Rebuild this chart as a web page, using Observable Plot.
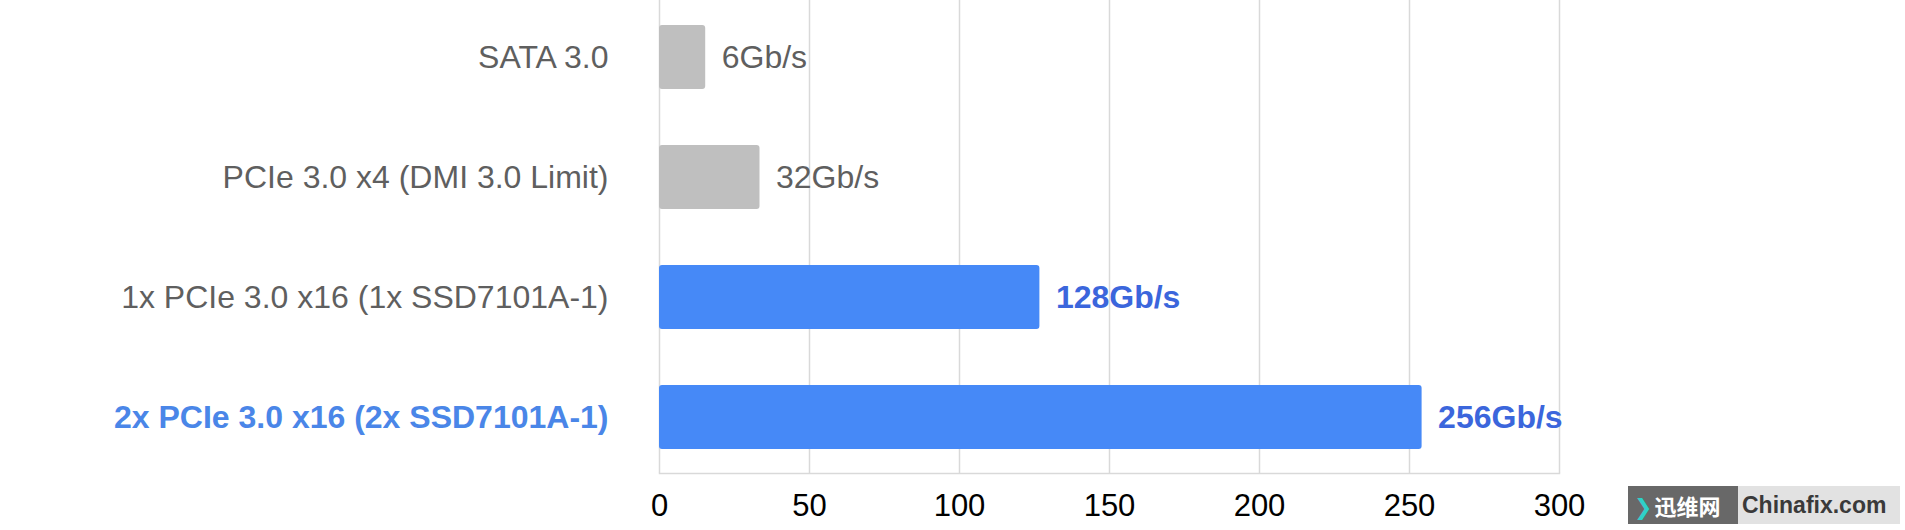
<!DOCTYPE html>
<html>
<head>
<meta charset="utf-8">
<script src="https://cdn.jsdelivr.net/npm/d3@7"></script>
<script src="https://cdn.jsdelivr.net/npm/@observablehq/plot@0.6"></script>
<style>
  html, body { margin: 0; padding: 0; background: #fff; }
  #wrap { position: relative; width: 1905px; height: 530px; overflow: hidden; }
  #wm { position: absolute; left: 1628px; top: 486px; height: 38px; display: flex; font-weight: bold; line-height: 38px; white-space: nowrap; }
  #wm div { box-sizing: border-box; overflow: hidden; }
  #wm .a { background: #686868; color: #fff; width: 110px; padding-left: 6px; font-family: "Noto Sans CJK SC", sans-serif; font-size: 22px; }
  #wm .a span.c { color: #2fd0c8; margin-right: 2px; font-family: "DejaVu Sans", sans-serif; }
  #wm .b { background: #e2e2e2; color: #3a3a3a; width: 162px; padding-left: 4px; font-family: "Liberation Sans", Arial, sans-serif; font-size: 23px; }
</style>
</head>
<body>
<div id="wrap"></div>
<script>
const categories = [
  "SATA 3.0",
  "PCIe 3.0 x4 (DMI 3.0 Limit)",
  "1x PCIe 3.0 x16 (1x SSD7101A-1)",
  "2x PCIe 3.0 x16 (2x SSD7101A-1)"
];
const barValues = [15.4, 33.5, 126.8, 254.2];
const valueLabels = ["6Gb/s", "32Gb/s", "128Gb/s", "256Gb/s"];
const highlighted = [false, false, true, true];
const xTicks = [0, 50, 100, 150, 200, 250, 300];

const data = categories.map((c, i) => ({
  name: c, value: barValues[i], label: valueLabels[i], hi: highlighted[i], top: i === categories.length - 1
}));

const font = "'Liberation Sans', Arial, Helvetica, sans-serif";

const chart = Plot.plot({
  width: 1905,
  height: 530,
  marginLeft: 659,
  marginRight: 346,
  marginTop: 0,
  marginBottom: 57,
  style: { fontFamily: font, background: "#fff" },
  x: { domain: [0, 300], ticks: xTicks, label: null },
  y: { domain: categories, paddingInner: 0.4667, paddingOuter: 0.204, label: null, axis: null },
  marks: [
    Plot.ruleX(xTicks, { stroke: "#d9d9d9", strokeWidth: 1.5 }),
    Plot.frame({ anchor: "bottom", stroke: "#d9d9d9", strokeWidth: 1.5 }),
    Plot.barX(data, {
      y: "name", x: "value", rx: 3,
      fill: d => d.hi ? "#4689f7" : "#bfbfbf"
    }),
    Plot.axisX({ ticks: xTicks, tickSize: 0, tickPadding: 20, fontSize: 31, fill: "#000", label: null }),
    Plot.text(data.filter(d => !d.top), {
      y: "name", x: 0, text: "name", dx: -51, textAnchor: "end",
      fontSize: 32, fill: "#5f5f5f"
    }),
    Plot.text(data.filter(d => d.top), {
      y: "name", x: 0, text: "name", dx: -51, textAnchor: "end",
      fontSize: 32, fontWeight: "bold", fill: "#4a86e8"
    }),
    Plot.text(data.filter(d => !d.hi), {
      y: "name", x: "value", text: "label", dx: 16, textAnchor: "start",
      fontSize: 32, fill: "#5f5f5f"
    }),
    Plot.text(data.filter(d => d.hi), {
      y: "name", x: "value", text: "label", dx: 16, textAnchor: "start",
      fontSize: 32, fontWeight: "bold", fill: "#3b66dc"
    })
  ]
});

const wrap = document.getElementById("wrap");
wrap.appendChild(chart);
const wm = document.createElement("div");
wm.id = "wm";
wm.innerHTML = '<div class="a"><span class="c">❯</span>迅维网</div><div class="b">Chinafix.com</div>';
wrap.appendChild(wm);
</script>
</body>
</html>
